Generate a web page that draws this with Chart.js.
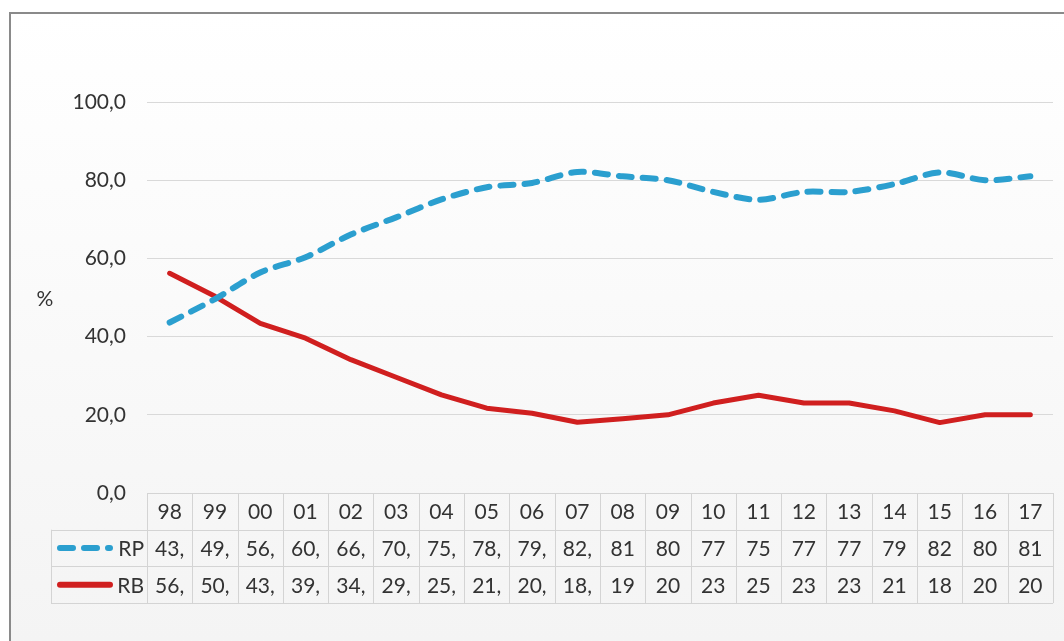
<!DOCTYPE html>
<html>
<head>
<meta charset="utf-8">
<script src="https://cdn.jsdelivr.net/npm/chart.js@4.4.1/dist/chart.umd.min.js"></script>
<style>
  html, body { margin: 0; padding: 0; background: #ffffff; }
  canvas { display: block; }
</style>
</head>
<body>
<canvas id="chart" width="1064" height="641"></canvas>
<script>
// Years (two-digit) shown in the data table under the plot
const years = ['98', '99', '00', '01', '02', '03', '04', '05', '06', '07',
               '08', '09', '10', '11', '12', '13', '14', '15', '16', '17'];

// Series names
const seriesNames = ['RP', 'RB'];

// Shares in percent
const rpValues = [43.6, 49.6, 56.4, 60.3, 66.1, 70.5, 75.1, 78.2, 79.3, 82.1,
                  81, 80, 77, 75, 77, 77, 79, 82, 80, 81];
const rbValues = [56.2, 50.3, 43.4, 39.6, 34.1, 29.6, 25.1, 21.7, 20.4, 18.1,
                  19, 20, 23, 25, 23, 23, 21, 18, 20, 20];

// Value axis range
const yMin = 0;
const yMax = 100;
const yStep = 20;
const yUnit = '%';

const FONT_FAMILY = 'Lato, "Open Sans", "DejaVu Sans", sans-serif';
const FONT_SIZE = 21;
const TEXT_COLOR = '#333333';
const GRID_COLOR = '#d9d9d9';
const TABLE_LINE = '#d4d4d4';
const RP_COLOR = '#2b9fcf';
const RB_COLOR = '#d01f1f';
const RP_DASH = [13, 11];

// Numbers in the table cells are written with a decimal comma and clipped to the cell width
function cellText(v) {
  return String(v).replace('.', ',').slice(0, 3);
}

// Light gradient background with a thin frame on the top and left
const framePlugin = {
  id: 'frame',
  beforeDraw(chart) {
    const { ctx, width, height } = chart;
    ctx.save();
    ctx.fillStyle = '#ffffff';
    ctx.fillRect(0, 0, width, height);
    const g = ctx.createLinearGradient(0, 13, 0, height);
    g.addColorStop(0, '#ffffff');
    g.addColorStop(1, '#f4f4f4');
    ctx.fillStyle = g;
    ctx.fillRect(10, 13, width - 10, height - 13);
    ctx.strokeStyle = '#8a8a8a';
    ctx.lineWidth = 2;
    ctx.beginPath();
    ctx.moveTo(10, height);
    ctx.lineTo(10, 13);
    ctx.lineTo(width, 13);
    ctx.stroke();
    ctx.restore();
  }
};

// Data table below the plot: year header, one row per series with its legend key
const tablePlugin = {
  id: 'dataTable',
  afterDraw(chart) {
    const { ctx, chartArea } = chart;
    const xs = chart.scales.x;
    const n = years.length;
    const colW = xs.getPixelForValue(1) - xs.getPixelForValue(0);
    const left = xs.getPixelForValue(0) - colW / 2;
    const right = xs.getPixelForValue(n - 1) + colW / 2;
    const top = chartArea.bottom;
    const rowH = 36.7;
    const keyLeft = 51;
    const crisp = v => Math.round(v) + 0.5;

    ctx.save();
    ctx.strokeStyle = TABLE_LINE;
    ctx.lineWidth = 1;
    ctx.beginPath();
    // horizontal rules
    ctx.moveTo(left, crisp(top));
    ctx.lineTo(right, crisp(top));
    for (let r = 1; r <= 3; r++) {
      const y = crisp(top + r * rowH);
      ctx.moveTo(keyLeft, y);
      ctx.lineTo(right, y);
    }
    // vertical rules
    for (let i = 0; i <= n; i++) {
      const x = crisp(left + i * colW);
      ctx.moveTo(x, top);
      ctx.lineTo(x, top + 3 * rowH);
    }
    ctx.moveTo(crisp(keyLeft), top + rowH);
    ctx.lineTo(crisp(keyLeft), top + 3 * rowH);
    ctx.stroke();

    ctx.font = FONT_SIZE + 'px ' + FONT_FAMILY;
    ctx.fillStyle = TEXT_COLOR;
    ctx.textBaseline = 'middle';
    ctx.textAlign = 'center';

    const rows = [years, rpValues.map(cellText), rbValues.map(cellText)];
    rows.forEach((cells, r) => {
      const cy = top + r * rowH + rowH / 2 + 1;
      cells.forEach((t, i) => {
        ctx.fillText(t, xs.getPixelForValue(i), cy);
      });
    });

    // legend keys and series names
    chart.data.datasets.forEach((ds, k) => {
      const cy = top + (k + 1) * rowH + rowH / 2;
      ctx.save();
      ctx.strokeStyle = ds.borderColor;
      ctx.lineWidth = 6;
      ctx.lineCap = 'round';
      ctx.setLineDash(ds.borderDash || []);
      ctx.beginPath();
      ctx.moveTo(60, cy);
      ctx.lineTo(110, cy);
      ctx.stroke();
      ctx.restore();
      ctx.textAlign = 'right';
      ctx.fillText(ds.label, left - 3, cy + 1);
    });

    // unit label beside the value axis
    ctx.textAlign = 'center';
    ctx.fillText(yUnit, 45, 299);
    ctx.restore();
  }
};

new Chart(document.getElementById('chart'), {
  type: 'line',
  data: {
    labels: years,
    datasets: [
      {
        label: seriesNames[0],
        data: rpValues,
        borderColor: RP_COLOR,
        borderWidth: 6,
        borderDash: RP_DASH,
        borderCapStyle: 'round',
        borderJoinStyle: 'round',
        tension: 0.3,
        pointRadius: 0,
        fill: false
      },
      {
        label: seriesNames[1],
        data: rbValues,
        borderColor: RB_COLOR,
        borderWidth: 5,
        borderCapStyle: 'round',
        borderJoinStyle: 'round',
        tension: 0,
        pointRadius: 0,
        fill: false
      }
    ]
  },
  options: {
    responsive: false,
    animation: false,
    devicePixelRatio: 1,
    layout: { padding: { top: 102, bottom: 148, left: 0, right: 11 } },
    plugins: {
      legend: { display: false },
      tooltip: { enabled: false },
      title: { display: false }
    },
    scales: {
      x: {
        type: 'category',
        display: false,
        offset: true
      },
      y: {
        min: yMin,
        max: yMax,
        afterFit(scale) { scale.width = 147; },
        border: { display: false },
        grid: { color: GRID_COLOR, lineWidth: 1, drawTicks: false },
        ticks: {
          stepSize: yStep,
          padding: 21,
          color: TEXT_COLOR,
          font: { family: FONT_FAMILY, size: FONT_SIZE },
          callback: v => v.toFixed(1).replace('.', ',')
        }
      }
    }
  },
  plugins: [framePlugin, tablePlugin]
});
</script>
</body>
</html>
